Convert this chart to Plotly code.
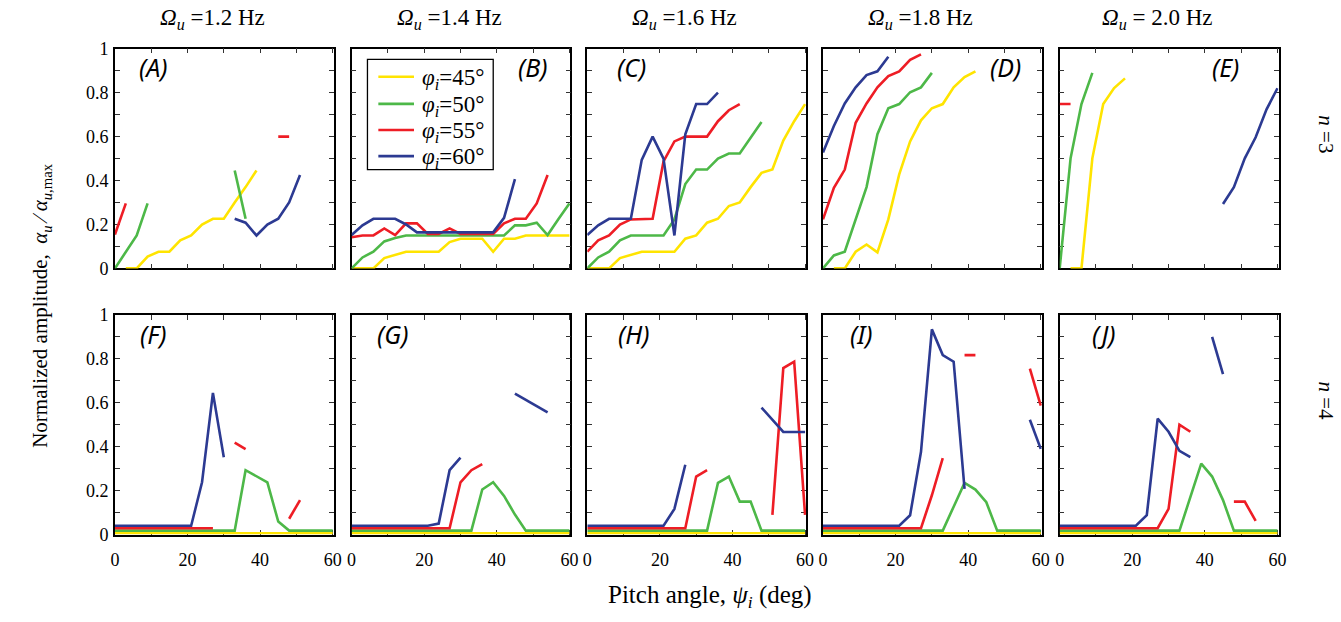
import plotly.graph_objects as go

N = None
PITCH = [0, 3, 6, 9, 12, 15, 18, 21, 24, 27, 30, 33, 36, 39, 42, 45, 48, 51, 54, 57, 60]

# ---------------- row 1 (n = 3) ----------------
A_Y = [N, 0, 0, .054, .076, .076, .128, .15, .2, .226, .226, .30, .37, .446, N, N, N, N, N, N, N]
A_G = [0, .075, .15, .296, N, N, N, N, N, N, N, .446, .226, N, N, N, N, N, N, N, N]
A_R = [.154, .296, N, N, N, N, N, N, N, N, N, N, N, N, N, .6, .6, N, N, N, N]
A_B = [N, N, N, N, N, N, N, N, N, N, N, .226, .208, .15, .2, .226, .3, .425, N, N, N]

B_Y = [0, 0, 0, .047, .06, .076, .076, .076, .076, .12, .135, .135, .135, .076, .135, .135, .15, .15, .15, .15, .15]
B_G = [0, .05, .076, .123, .138, .15, .15, .15, .15, .15, .15, .15, .15, .15, .15, .196, .196, .208, .152, .225, .296]
B_R = [.142, .15, .15, .182, .152, .205, .205, .157, .157, .182, .157, .157, .157, .157, .205, .226, .226, .296, .425, N, N]
B_B = [.152, .196, .226, .226, .226, .2, .164, .164, .164, .164, .164, .164, .164, .164, .23, .406, N, N, N, N, N]

C_Y = [0, 0, 0, .047, .062, .076, .076, .076, .076, .135, .15, .208, .226, .284, .3, .37, .435, .45, .582, .67, .748]
C_G = [0, .05, .076, .128, .15, .15, .15, .15, .223, .384, .45, .45, .5, .523, .523, .595, .666, N, N, N, N]
C_R = [.076, .128, .15, .2, .223, .226, .226, .487, .578, .6, .6, .6, .67, .72, .748, N, N, N, N, N, N]
C_B = [.152, .196, .226, .226, .226, .494, .6, .5, .15, .61, .748, .748, .8, N, N, N, N, N, N, N, N]

D_Y = [N, 0, 0, .076, .109, .073, .223, .428, .578, .674, .729, .748, .824, .871, .897, N, N, N, N, N, N]
D_G = [0, .059, .076, .223, .37, .611, .729, .748, .802, .824, .89, N, N, N, N, N, N, N, N, N, N]
D_R = [.223, .367, .45, .663, .751, .824, .875, .897, .949, .974, N, N, N, N, N, N, N, N, N, N, N]
D_B = [.528, .648, .751, .824, .88, .897, .963, N, N, N, N, N, N, N, N, N, N, N, N, N, N]

E_Y = [N, 0, 0, .501, .748, .821, .865, N, N, N, N, N, N, N, N, N, N, N, N, N, N]
E_G = [0, .501, .748, .89, N, N, N, N, N, N, N, N, N, N, N, N, N, N, N, N, N]
E_R = [.748, .748, N, N, N, N, N, N, N, N, N, N, N, N, N, N, N, N, N, N, N]
E_B = [N, N, N, N, N, N, N, N, N, N, N, N, N, N, N, .293, .37, .501, .597, .724, .82]

# ---------------- row 2 (n = 4) ----------------
ROW2_Y = [.006, .006, .006, .006, .006, .006, .006, .006, .006, .006, .006, .006, .006, .006, .006, .006, .006, .006, .006, .006, .006]

F_G = [.018, .018, .018, .018, .018, .018, .018, .018, .018, .018, .018, .018, .293, .265, .238, .059, .018, .018, .018, .018, .018]
F_R = [.029, .029, .029, .029, .029, .029, .029, .029, .029, .029, N, .419, .389, N, N, N, .072, .157, N, N, N]
F_B = [.04, .04, .04, .04, .04, .04, .04, .04, .238, .645, .352, N, N, N, N, N, N, N, N, N, N]

G_G = [.018, .018, .018, .018, .018, .018, .018, .018, .018, .018, .018, .018, .205, .238, .176, .091, .018, .018, .018, .018, .018]
G_R = [.029, .029, .029, .029, .029, .029, .029, .029, .029, .029, .238, .293, .321, N, N, N, N, N, N, N, N]
G_B = [.04, .04, .04, .04, .04, .04, .04, .04, .05, .293, .35, N, N, N, N, .642, .614, .586, .556, N, N]

H_G = [.018, .018, .018, .018, .018, .018, .018, .018, .018, .018, .018, .018, .235, .264, .15, .15, .018, .018, .018, .018, .018]
H_R = [.029, .029, .029, .029, .029, .029, .029, .029, .029, .029, .264, .293, N, N, N, N, N, .09, .758, .787, .09]
H_B = [.04, .04, .04, .04, .04, .04, .04, .04, .117, .318, N, N, N, N, N, N, .578, .525, .467, .467, .467]

I_G = [.018, .018, .018, .018, .018, .018, .018, .018, .018, .018, .018, .018, .127, .235, .205, .147, .018, .018, .018, .018, .018]
I_R = [.029, .029, .029, .029, .029, .029, .029, .029, .029, .029, .179, .348, N, .817, .817, N, N, N, N, .755, .587]
I_B = [.04, .04, .04, .04, .04, .04, .04, .04, .088, .377, .934, .817, .787, .208, N, N, N, N, N, .523, .39]

J_G = [.018, .018, .018, .018, .018, .018, .018, .018, .018, .018, .018, .018, .17, .323, .264, .157, .018, .018, .018, .018, .018]
J_R = [.029, .029, .029, .029, .029, .029, .029, .029, .029, .029, .117, .5, .468, N, N, N, .15, .15, .062, N, N]
J_B = [.04, .04, .04, .04, .04, .04, .04, .04, .088, .528, .468, .381, .352, N, .9, .73, N, N, N, N, N]

PANELS = [
    ("(A)", 10.6, [A_Y, A_G, A_R, A_B]),
    ("(B)", 50.0, [B_Y, B_G, B_R, B_B]),
    ("(C)", 12.3, [C_Y, C_G, C_R, C_B]),
    ("(D)", 50.2, [D_Y, D_G, D_R, D_B]),
    ("(E)", 45.8, [E_Y, E_G, E_R, E_B]),
    ("(F)", 10.4, [ROW2_Y, F_G, F_R, F_B]),
    ("(G)", 11.2, [ROW2_Y, G_G, G_R, G_B]),
    ("(H)", 12.8, [ROW2_Y, H_G, H_R, H_B]),
    ("(I)", 10.6, [ROW2_Y, I_G, I_R, I_B]),
    ("(J)", 12.3, [ROW2_Y, J_G, J_R, J_B]),
]
COL_TITLES = ["=1.2 Hz", "=1.4 Hz", "=1.6 Hz", "=1.8 Hz", "= 2.0 Hz"]
ROW_LABELS = ["=3", "=4"]
SERIES_NAMES = ["45°", "50°", "55°", "60°"]
COLORS = ["#FFE400", "#4DB848", "#EE1D25", "#2C3A92"]

W, H = 1341, 622
COL_PX = [(111, 332), (350, 571), (588, 809), (826, 1047), (1065, 1286)]
ROW_PX = [(40, 267), (315, 542)]

SERIF = "Liberation Serif"
SANS = "Noto Sans"

fig = go.Figure()
annotations = []
shapes = []
layout = dict(width=W, height=H, margin=dict(l=0, r=0, t=0, b=0),
              paper_bgcolor="white", plot_bgcolor="white", showlegend=False)


def ann(x, y, text, size, family=SERIF, angle=0, xanchor="center", **kw):
    annotations.append(dict(x=x, y=y, text=text, showarrow=False, textangle=angle,
                            xanchor=xanchor, yanchor="middle",
                            font=dict(family=family, size=size, color="black"), **kw))


for i, (lab, labx, series) in enumerate(PANELS):
    r, c = divmod(i, 5)
    k = i + 1
    xs = "x" if k == 1 else f"x{k}"
    ys = "y" if k == 1 else f"y{k}"
    x0, x1 = COL_PX[c]
    y0, y1 = ROW_PX[r]
    common = dict(showline=True, mirror="ticks", linecolor="black", linewidth=1.5,
                  ticks="inside", ticklen=5, tickwidth=1, tickcolor="#333",
                  showgrid=False, zeroline=False, tickmode="linear", tick0=0,
                  layer="below traces",
                  tickfont=dict(family=SERIF, size=18, color="black"))
    layout[f"xaxis{k}"] = dict(domain=[x0 / W, x1 / W], anchor=ys, range=[0, 60.3],
                               dtick=20, showticklabels=(r == 1), ticklabelstandoff=8,
                               minor=dict(dtick=10, ticks="inside", ticklen=5,
                                          tickcolor="#333", showgrid=False),
                               **common)
    layout[f"yaxis{k}"] = dict(domain=[1 - y1 / H, 1 - y0 / H], anchor=xs, range=[0, 1],
                               dtick=0.2, showticklabels=(c == 0), ticklabelstandoff=1,
                               minor=dict(dtick=0.1, ticks="inside", ticklen=5,
                                          tickcolor="#333", showgrid=False),
                               **common)
    for s, vals in enumerate(series):
        fig.add_trace(go.Scatter(
            x=PITCH, y=vals, mode="lines", xaxis=xs, yaxis=ys,
            line=dict(color=COLORS[s], width=2.6),
            name=f"φi={SERIES_NAMES[s]}", connectgaps=False, hoverinfo="skip"))
    ann(labx, 0.915, f"<i>{lab}</i>", 25, family=SANS, xref=xs, yref=ys)

for c, t in enumerate(COL_TITLES):
    x0, x1 = COL_PX[c]
    ann(((x0 + x1) / 2 - 12) / W, 1 - 9 / H, f"<i>Ω</i><sub><i>u</i></sub> {t}", 23,
        xref="paper", yref="paper")

ann(712 / W, 1 - 606 / H, "Pitch angle, <i>ψ</i><sub><i>i</i></sub> (deg)", 25,
    xref="paper", yref="paper")
ann(37 / W, 1 - 306 / H,
    "Normalized amplitude,  <i>α</i><sub><i>u</i></sub> ⁄ <i>α</i><sub><i>u</i>,max</sub>",
    21, angle=-90, xref="paper", yref="paper")
for r, t in enumerate(ROW_LABELS):
    y0, y1 = ROW_PX[r]
    ann(1334 / W, 1 - ((y0 + y1) / 2 - 25) / H, f"<i>n</i> {t}", 21, angle=90,
        xref="paper", yref="paper")

# legend drawn inside panel (B), as in the reference
LEG_BOX = (366, 51, 493, 165)
LEG_ROWS = [69, 97, 124, 151]
shapes.append(dict(type="rect", xref="paper", yref="paper",
                   x0=LEG_BOX[0] / W, x1=LEG_BOX[2] / W,
                   y0=1 - LEG_BOX[3] / H, y1=1 - LEG_BOX[1] / H,
                   line=dict(color="black", width=1.3), fillcolor="white", layer="above"))
for s, yy in enumerate(LEG_ROWS):
    shapes.append(dict(type="line", xref="paper", yref="paper",
                       x0=377 / W, x1=413 / W, y0=1 - yy / H, y1=1 - yy / H,
                       line=dict(color=COLORS[s], width=2.6), layer="above"))
    ann(419 / W, 1 - (yy + 2) / H, f"<i>φ</i><sub><i>i</i></sub>={SERIES_NAMES[s]}", 23,
        xanchor="left", xref="paper", yref="paper")

layout["annotations"] = annotations
layout["shapes"] = shapes
fig.update_layout(**layout)
fig.write_html("out.html")
